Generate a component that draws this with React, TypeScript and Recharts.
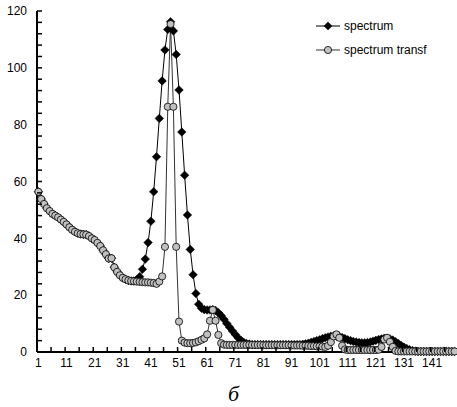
import React from 'react';
import { LineChart, Line, XAxis, YAxis, Legend } from 'recharts';

const spectrum = [
  56.4, 53.8, 52.1, 50.6, 49.6, 48.6, 48.0, 47.4, 46.6, 45.8,
  44.9, 43.9, 43.0, 42.3, 41.8, 41.5, 41.4, 41.3, 40.8, 40.0,
  39.4, 38.4, 37.3, 35.8, 34.4, 32.9, 33.0, 29.8, 28.2, 27.0,
  26.1, 25.6, 25.2, 25.0, 25.0, 25.4, 26.5, 29.1, 32.7, 38.5,
  46.0, 56.4, 68.7, 82.2, 95.4, 106.3, 113.5, 116.2, 113.0, 104.7,
  92.2, 77.4, 62.2, 48.2, 36.1, 27.2, 20.6, 16.8, 15.4, 14.9,
  14.8, 14.8, 14.9, 14.6, 13.8, 12.8, 11.5, 10.0, 8.7, 7.4,
  6.2, 5.0, 4.1, 3.4, 3.0, 2.8, 2.6, 2.6, 2.6, 2.6,
  2.6, 2.6, 2.6, 2.6, 2.6, 2.6, 2.6, 2.6, 2.6, 2.6,
  2.6, 2.6, 2.6, 2.6, 2.7, 2.9, 3.1, 3.4, 3.7, 4.0,
  4.3, 4.7, 5.0, 5.3, 5.5, 5.6, 5.6, 5.4, 5.1, 4.7,
  4.3, 4.0, 3.7, 3.5, 3.3, 3.2, 3.2, 3.3, 3.5, 3.8,
  4.1, 4.4, 4.6, 4.8, 4.8, 4.6, 4.2, 3.6, 3.0, 2.3,
  1.7, 1.2, 0.8, 0.5, 0.3, 0.2, 0.2, 0.2, 0.2, 0.2,
  0.2, 0.2, 0.2, 0.2, 0.2, 0.2, 0.2, 0.2, 0.2,
];

const spectrumTransf = [
  56.4, 53.8, 52.1, 50.6, 49.6, 48.6, 48.0, 47.4, 46.6, 45.8,
  44.9, 43.9, 43.0, 42.3, 41.8, 41.5, 41.4, 41.3, 40.8, 40.0,
  39.4, 38.4, 37.3, 35.8, 34.4, 32.9, 33.0, 29.8, 28.2, 27.0,
  26.1, 25.6, 25.2, 25.0, 24.9, 24.8, 24.7, 24.6, 24.5, 24.5,
  24.4, 24.3, 24.0, 24.8, 26.6, 37.0, 86.3, 115.4, 86.3, 37.0,
  10.7, 4.0, 3.3, 3.1, 3.1, 3.2, 3.4, 3.8, 4.3, 4.8,
  6.2, 11.0, 14.8, 11.0, 6.0, 3.1, 2.6, 2.5, 2.5, 2.5,
  2.5, 2.5, 2.5, 2.5, 2.5, 2.5, 2.5, 2.5, 2.5, 2.5,
  2.4, 2.4, 2.4, 2.4, 2.4, 2.4, 2.4, 2.4, 2.4, 2.4,
  2.3, 2.3, 2.3, 2.3, 2.2, 2.2, 2.2, 2.1, 2.1, 2.0,
  2.0, 1.9, 1.8, 2.2, 3.5, 5.5, 6.2, 5.0, 2.2, 0.9,
  0.7, 0.7, 0.7, 0.7, 0.7, 0.7, 0.7, 0.7, 0.7, 0.7,
  0.7, 0.8, 1.8, 4.4, 5.0, 3.6, 1.8, 0.4, 0.2, 0.2,
  0.2, 0.2, 0.2, 0.2, 0.2, 0.2, 0.2, 0.2, 0.2, 0.2,
  0.2, 0.2, 0.2, 0.2, 0.2, 0.2, 0.2, 0.2, 0.2,
];

const categories = spectrum.map((_, i) => i + 1);
const xTickLabels = [1, 11, 21, 31, 41, 51, 61, 71, 81, 91, 101, 111, 121, 131, 141];
const xTickMarks = [5.5, 10.5, 15.5, 20.5, 25.5, 30.5, 35.5, 40.5, 45.5, 50.5, 55.5, 60.5, 65.5, 70.5, 75.5, 80.5, 85.5, 90.5, 95.5, 100.5, 105.5, 110.5, 115.5, 120.5, 125.5, 130.5, 135.5, 140.5, 145.5];
const yTickLabels = [0, 20, 40, 60, 80, 100, 120];
const yTickMarks = [4, 8, 12, 16, 24, 28, 32, 36, 44, 48, 52, 56, 64, 68, 72, 76, 84, 88, 92, 96, 104, 108, 112, 116];
const seriesNames = ['spectrum', 'spectrum transf'];

const data = categories.map((c, i) => ({ x: c, spectrum: spectrum[i], transf: spectrumTransf[i] }));

const FONT = '"Liberation Sans", Arial, sans-serif';

const XTick = (props: any) => {
  const { x, y, payload } = props;
  const v = payload.value;
  if (Number.isInteger(v)) {
    return (
      <text x={x} y={y + 15} textAnchor="middle" fontSize={12} fontFamily={FONT} fill="#000">
        {v}
      </text>
    );
  }
  return <line x1={x} x2={x} y1={y} y2={y - 5} stroke="#000" strokeWidth={1.5} />;
};

const YTick = (props: any) => {
  const { x, y, payload } = props;
  const v = payload.value;
  const isLabel = v % 20 === 0;
  return (
    <g>
      {v !== 0 && <line x1={x} x2={x + 5} y1={y} y2={y} stroke="#000" strokeWidth={1.5} />}
      {isLabel && (
        <text x={x - 10} y={y + 4.3} textAnchor="end" fontSize={12} fontFamily={FONT} fill="#000">
          {v}
        </text>
      )}
    </g>
  );
};

const Diamond = (props: any) => {
  const { cx, cy, index } = props;
  if (cx == null || cy == null) return <g key={`d-${index}`} />;
  const s = 4.3;
  return (
    <polygon
      key={`d-${index}`}
      points={`${cx},${cy - s} ${cx + s},${cy} ${cx},${cy + s} ${cx - s},${cy}`}
      fill="#000"
      stroke="#000"
      strokeWidth={0.5}
    />
  );
};

const LegendContent = () => (
  <svg width={145} height={48}>
    <line x1={4} x2={28} y1={11} y2={11} stroke="#000" strokeWidth={1} />
    <polygon points="16,6.7 20.3,11 16,15.3 11.7,11" fill="#000" />
    <text x={32} y={15.3} fontSize={12} fontFamily={FONT} fill="#000">{seriesNames[0]}</text>
    <line x1={4} x2={28} y1={35} y2={35} stroke="#333" strokeWidth={1} />
    <circle cx={16} cy={35} r={3.6} fill="#c0c0c0" stroke="#000" strokeWidth={0.8} />
    <text x={32} y={39.3} fontSize={12} fontFamily={FONT} fill="#000">{seriesNames[1]}</text>
  </svg>
);

const Caption = (props: any) => {
  const vb = props.viewBox || {};
  return (
    <text
      x={vb.x + vb.width / 2 - 13}
      y={vb.y + 49}
      textAnchor="middle"
      fontSize={22}
      fontStyle="italic"
      fontFamily='"Liberation Serif", "Times New Roman", serif'
      fill="#000"
    >
      б
    </text>
  );
};

export default function App() {
  return (
    <div style={{ position: 'absolute', left: 0, top: 0, width: 457, height: 407, background: '#fff' }}>
      <LineChart width={457} height={407} data={data} margin={{ top: 11, right: 1, bottom: 0, left: 0 }}>
        <XAxis
          dataKey="x"
          type="number"
          domain={[0.5, 149.5]}
          ticks={[...xTickMarks, ...xTickLabels]}
          interval={0}
          tick={<XTick />}
          tickLine={false}
          tickSize={0}
          tickMargin={0}
          height={55}
          axisLine={{ stroke: '#000', strokeWidth: 2 }}
          allowDecimals
          label={<Caption />}
        />
        <YAxis
          type="number"
          domain={[0, 120]}
          ticks={[...yTickMarks, ...yTickLabels]}
          interval={0}
          tick={<YTick />}
          tickLine={false}
          tickSize={0}
          tickMargin={0}
          width={37}
          axisLine={{ stroke: '#000', strokeWidth: 2 }}
        />
        <Legend
          layout="vertical"
          align="center"
          verticalAlign="middle"
          content={<LegendContent />}
          wrapperStyle={{ top: 15, left: 312, width: 145, height: 48 }}
        />
        <Line
          dataKey="spectrum"
          name={seriesNames[0]}
          stroke="#000"
          strokeWidth={1}
          dot={<Diamond />}
          activeDot={false}
          isAnimationActive={false}
        />
        <Line
          dataKey="transf"
          name={seriesNames[1]}
          stroke="#333"
          strokeWidth={1}
          dot={{ r: 3.6, fill: '#c0c0c0', stroke: '#000', strokeWidth: 0.8 }}
          activeDot={false}
          isAnimationActive={false}
        />
      </LineChart>
    </div>
  );
}
